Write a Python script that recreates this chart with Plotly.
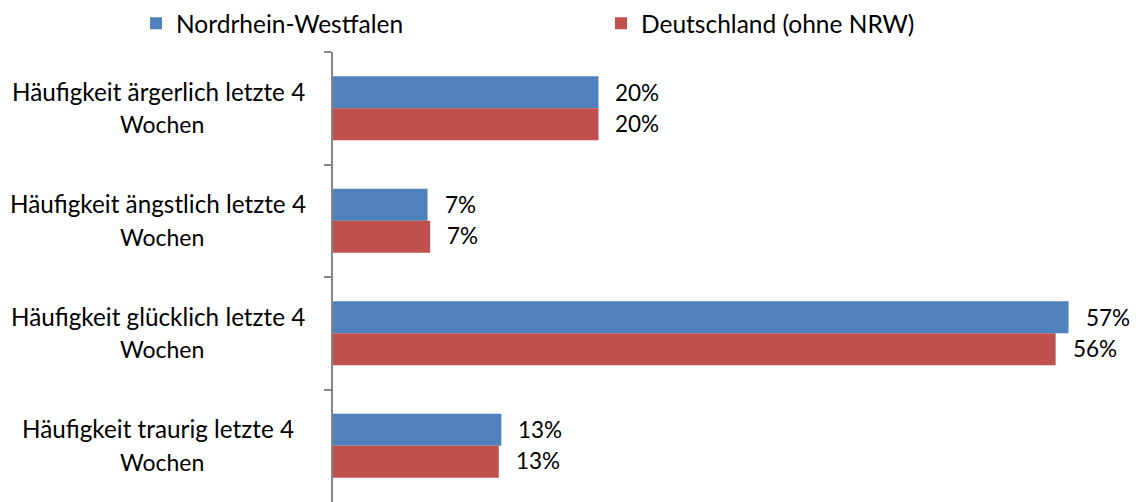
import plotly.graph_objects as go

categories = [
    "Häufigkeit ärgerlich letzte 4 Wochen",
    "Häufigkeit ängstlich letzte 4 Wochen",
    "Häufigkeit glücklich letzte 4 Wochen",
    "Häufigkeit traurig letzte 4 Wochen",
]
label_line1 = [
    "Häufigkeit ärgerlich letzte 4",
    "Häufigkeit ängstlich letzte 4",
    "Häufigkeit glücklich letzte 4",
    "Häufigkeit traurig letzte 4",
]
label_line2 = ["Wochen", "Wochen", "Wochen", "Wochen"]

nrw_values = [0.205, 0.073, 0.568, 0.130]
de_values = [0.205, 0.075, 0.558, 0.128]
nrw_labels = ["20%", "7%", "57%", "13%"]
de_labels = ["20%", "7%", "56%", "13%"]

FONT = "Lato"
FS = 22.5
BLUE = "#4F81BD"
RED = "#C0504D"

fig = go.Figure()
fig.add_trace(go.Bar(name="Nordrhein-Westfalen", y=categories, x=nrw_values,
                     orientation="h", marker=dict(color=BLUE, line=dict(width=0))))
fig.add_trace(go.Bar(name="Deutschland (ohne NRW)", y=categories, x=de_values,
                     orientation="h", marker=dict(color=RED, line=dict(width=0))))

annotations = []
for cat, v, t in zip(categories, nrw_values, nrw_labels):
    annotations.append(dict(x=v, y=cat, text=t, xref="x", yref="y", showarrow=False,
                            xanchor="left", xshift=15, yshift=16,
                            font=dict(family=FONT, size=FS, color="#000")))
for cat, v, t in zip(categories, de_values, de_labels):
    annotations.append(dict(x=v, y=cat, text=t, xref="x", yref="y", showarrow=False,
                            xanchor="left", xshift=15, yshift=-15,
                            font=dict(family=FONT, size=FS, color="#000")))
for cat, l1, l2 in zip(categories, label_line1, label_line2):
    annotations.append(dict(x=-0.2246, y=cat, text=l1, xref="paper", yref="y", showarrow=False,
                            xanchor="center", yshift=17,
                            font=dict(family=FONT, size=24.3, color="#000")))
    annotations.append(dict(x=-0.2201, y=cat, text=l2, xref="paper", yref="y", showarrow=False,
                            xanchor="center", yshift=-16,
                            font=dict(family=FONT, size=23, color="#000")))

fig.update_layout(
    width=1133, height=494,
    margin=dict(l=325, r=31, t=44, b=0, autoexpand=False),
    paper_bgcolor="white", plot_bgcolor="white",
    barmode="group", bargap=0.43, bargroupgap=0,
    font=dict(family=FONT, size=FS, color="#000"),
    showlegend=True,
    legend=dict(orientation="h", x=-0.2535, y=1.064, xanchor="left", yanchor="middle",
                entrywidth=420, entrywidthmode="pixels",
                font=dict(family=FONT, size=24.5, color="#000"),
                itemclick=False, itemdoubleclick=False, traceorder="normal"),
    xaxis=dict(range=[0, 0.6], showgrid=False, zeroline=False, showticklabels=False,
               showline=False, ticks=""),
    yaxis=dict(autorange="reversed", showgrid=False, zeroline=False, showticklabels=False,
               showline=True, linecolor="#868686", linewidth=1.5,
               ticks="outside", ticklen=7, tickcolor="#868686", tickwidth=1.5,
               tickson="boundaries", type="category"),
    annotations=annotations,
)

fig.write_html("out.html")
